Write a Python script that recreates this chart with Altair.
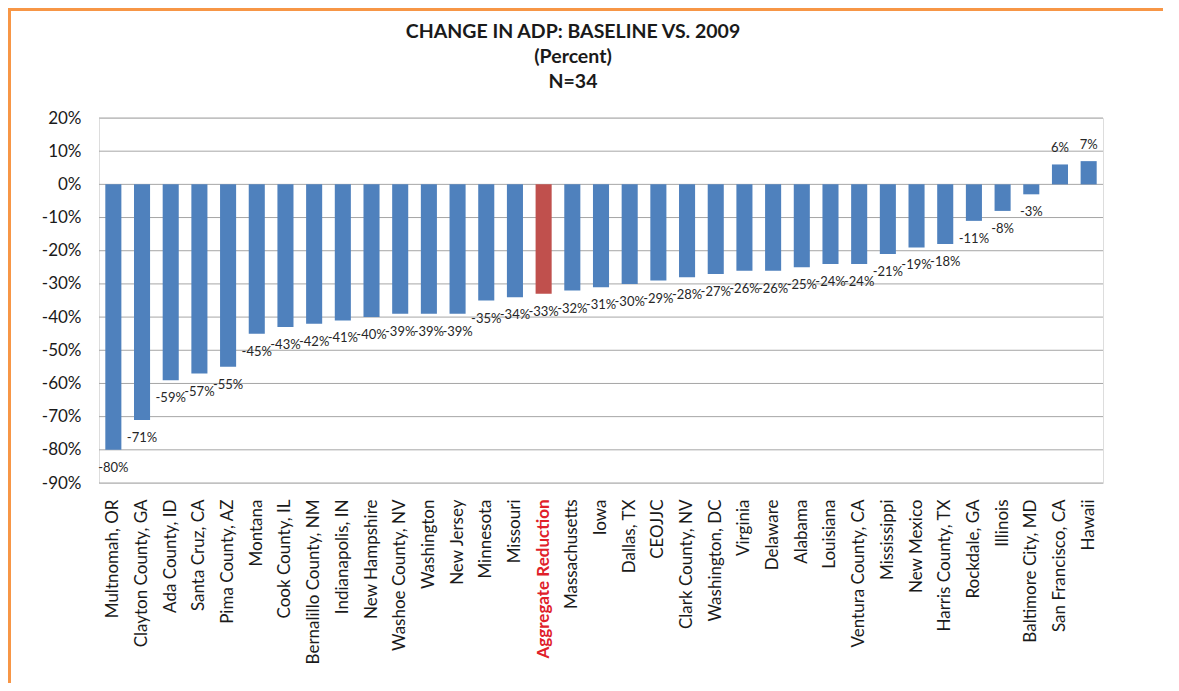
import altair as alt
import pandas as pd

categories = [
    "Multnomah, OR", "Clayton County, GA", "Ada County, ID", "Santa Cruz, CA",
    "Pima County, AZ", "Montana", "Cook County, IL", "Bernalillo County, NM",
    "Indianapolis, IN", "New Hampshire", "Washoe County, NV", "Washington",
    "New Jersey", "Minnesota", "Missouri", "Aggregate Reduction",
    "Massachusetts", "Iowa", "Dallas, TX", "CEOJJC", "Clark County, NV",
    "Washington, DC", "Virginia", "Delaware", "Alabama", "Louisiana",
    "Ventura County, CA", "Mississippi", "New Mexico", "Harris County, TX",
    "Rockdale, GA", "Illinois", "Baltimore City, MD", "San Francisco, CA",
    "Hawaii",
]
values = [
    -80, -71, -59, -57, -55, -45, -43, -42, -41, -40, -39, -39, -39, -35, -34,
    -33, -32, -31, -30, -29, -28, -27, -26, -26, -25, -24, -24, -21, -19, -18,
    -11, -8, -3, 6, 7,
]
highlight = "Aggregate Reduction"
y_ticks = [20, 10, 0, -10, -20, -30, -40, -50, -60, -70, -80, -90]
title_lines = ["CHANGE IN ADP: BASELINE VS. 2009", "(Percent)", "N=34"]

df = pd.DataFrame({"category": categories, "value": values})
grid_df = pd.DataFrame({"tick": y_ticks})

FONT = "Lato"
W, H = 1004, 365
GRID = "#A6A6A6"

x_enc = alt.X(
    "category:N",
    sort=categories,
    scale=alt.Scale(paddingInner=0.44),
    axis=alt.Axis(
        title=None,
        labelAngle=-90,
        labelAlign="right",
        labelBaseline="middle",
        labelFont=FONT,
        labelFontSize=17,
        labelPadding=16,
        labelLimit=300,
        ticks=False,
        grid=False,
        domain=False,
        labelColor={
            "condition": {"test": f"datum.value == '{highlight}'", "value": "#E0202A"},
            "value": "#1a1a1a",
        },
        labelFontWeight={
            "condition": {"test": f"datum.value == '{highlight}'", "value": "bold"},
            "value": "normal",
        },
    ),
)
y_axis = alt.Axis(
    title=None,
    values=y_ticks,
    labelExpr="datum.value + '%'",
    labelFont=FONT,
    labelFontSize=17,
    labelColor="#1a1a1a",
    labelPadding=18,
    labelOverlap=False,
    ticks=False,
    domain=False,
    grid=False,
)
y_scale = alt.Scale(domain=[-90, 20], nice=False, zero=False)


def y_enc(field="value"):
    return alt.Y(f"{field}:Q", scale=y_scale, axis=y_axis)


# horizontal gridlines drawn from the tick values through the y scale
grid = (
    alt.Chart(grid_df)
    .mark_rule(color=GRID, strokeWidth=1)
    .encode(y=y_enc("tick"))
)

base = alt.Chart(df).encode(x=x_enc)

bars = base.mark_bar().encode(
    y=y_enc(),
    color=alt.condition(
        f"datum.category == '{highlight}'",
        alt.value("#C0504D"),
        alt.value("#4F81BD"),
    ),
)

labels_neg = (
    base.transform_filter("datum.value < 0")
    .transform_calculate(label="datum.value + '%'")
    .mark_text(font=FONT, fontSize=13, color="#262626", baseline="middle", dy=18)
    .encode(y=y_enc(), text="label:N")
)
labels_pos = (
    base.transform_filter("datum.value >= 0")
    .transform_calculate(label="datum.value + '%'")
    .mark_text(font=FONT, fontSize=13, color="#262626", baseline="middle", dy=-16)
    .encode(y=y_enc(), text="label:N")
)

one = alt.Data(values=[{"k": 1}])
title_mark = alt.Chart(one).mark_text(
    font=FONT, fontSize=19.5, fontWeight="bold", color="#1a1a1a",
    align="center", baseline="top", lineHeight=25, clip=False,
).encode(x=alt.value(474), y=alt.value(-95), text=alt.value(title_lines))

border_left = alt.Chart(one).mark_rule(
    color="#F79646", strokeWidth=3, clip=False
).encode(x=alt.value(-89.5), y=alt.value(-110), y2=alt.value(H + 220))
border_top = alt.Chart(one).mark_rule(
    color="#F79646", strokeWidth=3, clip=False
).encode(y=alt.value(-108.5), x=alt.value(-91), x2=alt.value(W + 80))

chart = (
    alt.layer(grid, bars, labels_neg, labels_pos, title_mark, border_left, border_top)
    .properties(
        width=W,
        height=H,
        autosize=alt.AutoSizeParams(type="none"),
        padding={"left": 91, "top": 110, "right": 60, "bottom": 200},
    )
    .configure_view(strokeWidth=0, stroke=None)
    .configure_axis(domain=False)
    .configure(background="white")
)

chart.save("out.html", embed_options={"renderer": "svg", "actions": False})
